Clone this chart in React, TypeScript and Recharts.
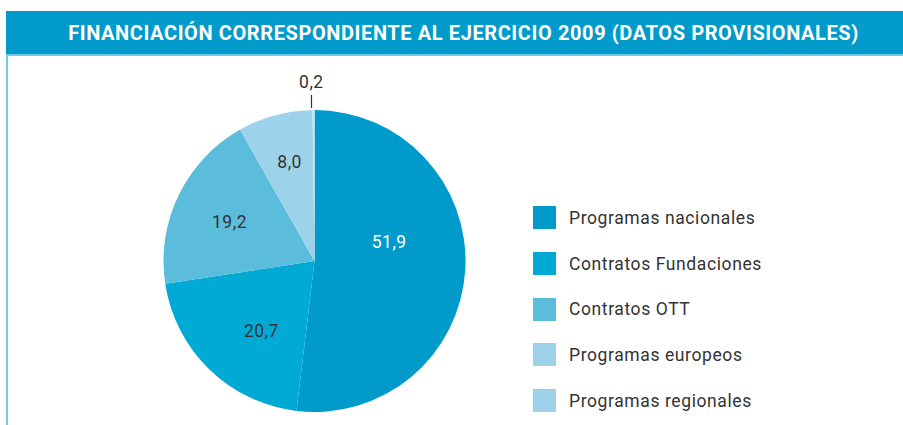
import React from "react";
import { PieChart, Pie, Cell, Legend } from "recharts";

const categories = [
  "Programas nacionales",
  "Contratos Fundaciones",
  "Contratos OTT",
  "Programas europeos",
  "Programas regionales",
];
const values = [51.9, 20.7, 19.2, 8.0, 0.2];
const title = "FINANCIACIÓN CORRESPONDIENTE AL EJERCICIO 2009 (DATOS PROVISIONALES)";

const sliceColors = ["#009bcb", "#00aad4", "#5bbcdc", "#9dd3ea", "#cbe8f4"];
const legendColors = ["#009bcb", "#00aad4", "#5bbcdc", "#9dd3ea", "#9dd3ea"];

const data = categories.map((name, i) => ({ name, value: values[i] }));

const FONT = "Roboto, 'DejaVu Sans', sans-serif";
const RAD = Math.PI / 180;
const labelRadius = [77, 88, 93.5, 102, 179];
const labelAngleShift = [17.4, 7, 1.3, -1, 0];

const renderLabel = (props: any) => {
  const { cx, cy, midAngle, index, value, outerRadius } = props;
  const a = (midAngle + labelAngleShift[index]) * RAD;
  const r = labelRadius[index];
  const x = cx + r * Math.cos(a);
  const y = cy - r * Math.sin(a);
  const txt = Number(value).toFixed(1).replace(".", ",");
  const fill = index === 0 ? "#ffffff" : "#333333";
  return (
    <g key={`lbl-${index}`}>
      {index === 4 && (
        <line
          x1={cx + (outerRadius + 2) * Math.cos(midAngle * RAD) - 2}
          y1={cy - (outerRadius + 2) * Math.sin(midAngle * RAD)}
          x2={cx + (outerRadius + 15) * Math.cos(midAngle * RAD) - 2}
          y2={cy - (outerRadius + 15) * Math.sin(midAngle * RAD)}
          stroke="#333"
          strokeWidth={1.2}
        />
      )}
      <text
        x={x - (index === 4 ? 2 : 0)}
        y={y}
        textAnchor="middle"
        dominantBaseline="central"
        fontFamily={FONT}
        fontSize={17.5}
        letterSpacing={0.5}
        fill={fill}
      >
        {txt}
      </text>
    </g>
  );
};

const LegendContent = () => (
  <div>
    {categories.map((c, i) => (
      <div
        key={c}
        style={{
          display: "flex",
          alignItems: "center",
          height: 45.7,
          fontFamily: FONT,
          fontSize: 17.5,
          letterSpacing: 0.6,
          color: "#333",
          whiteSpace: "nowrap",
        }}
      >
        <div
          style={{
            width: 23,
            height: 23,
            background: legendColors[i],
            marginRight: 13,
            flexShrink: 0,
          }}
        />
        <span>{c}</span>
      </div>
    ))}
  </div>
);

export default function App() {
  return (
    <div
      style={{
        position: "absolute",
        left: 0,
        top: 0,
        width: 903,
        height: 425,
        background: "#fff",
        overflow: "hidden",
      }}
    >
      <div
        style={{
          position: "absolute",
          left: 6,
          top: 54,
          width: 897,
          height: 371,
          borderLeft: "2px solid #6fcbec",
          borderTop: "2px solid #6fcbec",
          boxSizing: "border-box",
        }}
      />
      <div
        style={{
          position: "absolute",
          left: 6,
          top: 11,
          width: 897,
          height: 43,
          background: "#009bcb",
          color: "#fff",
          fontFamily: FONT,
          fontWeight: 700,
          fontSize: 20,
          letterSpacing: 0.6,
          display: "flex",
          alignItems: "center",
          justifyContent: "center",
          paddingLeft: 18,
          boxSizing: "border-box",
          whiteSpace: "nowrap",
        }}
      >
        {title}
      </div>
      <div style={{ position: "absolute", left: 0, top: 0 }}>
        <PieChart width={903} height={425} margin={{ top: 0, right: 0, bottom: 0, left: 0 }}>
          <Pie
            data={data}
            dataKey="value"
            nameKey="name"
            cx={314.5}
            cy={261}
            outerRadius={151}
            startAngle={90}
            endAngle={-270}
            stroke="none"
            isAnimationActive={false}
            labelLine={false}
            label={renderLabel}
          >
            {data.map((d, i) => (
              <Cell key={d.name} fill={sliceColors[i]} />
            ))}
          </Pie>
          <Legend
            content={<LegendContent />}
            layout="vertical"
            wrapperStyle={{ position: "absolute", left: 533, top: 195, width: 300 }}
          />
        </PieChart>
      </div>
    </div>
  );
}
